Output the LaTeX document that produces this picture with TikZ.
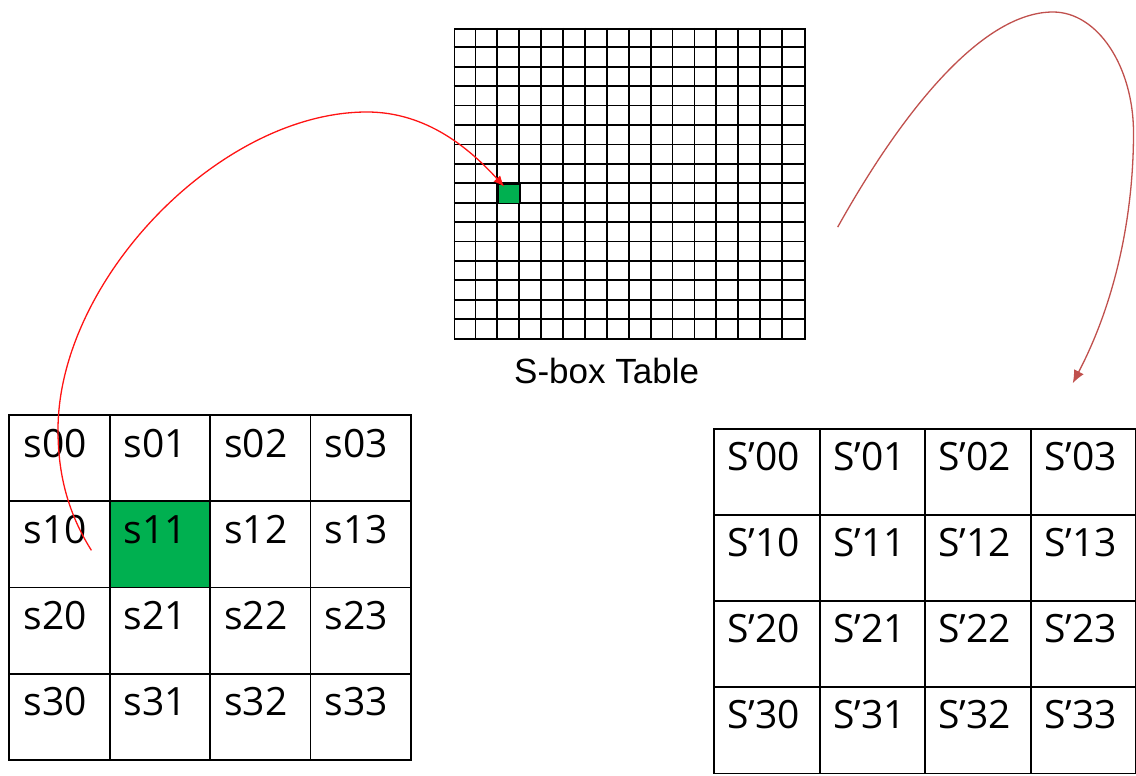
\documentclass[tikz,border=0pt]{standalone}
\usepackage{fontspec}
\setmainfont{Open Sans}
\newfontfamily\labelfont{Liberation Sans}
\usetikzlibrary{arrows.meta,calc}
\definecolor{cellgreen}{RGB}{0,176,80}
\definecolor{arrowred}{RGB}{255,20,20}
\definecolor{darkarrow}{RGB}{192,80,77}
\tikzset{
  cellbox/.style={draw=black, line width=1.8pt, minimum width=100.4pt, minimum height=86.3pt, inner sep=0pt, anchor=north west},
  cellboxR/.style={cellbox, minimum width=105.5pt, minimum height=86.2pt},
  celltext/.style={anchor=base west, inner sep=0pt, font=\fontsize{39}{39}\selectfont},
  sboxframe/.style={draw=black, line width=1.8pt, inner sep=0pt, anchor=north west},
  sboxline/.style={draw=black, line width=1.8pt},
  lcell11/.style={fill=cellgreen},
  redarrow/.style={draw=arrowred, line width=1.3pt, -{Latex[length=11pt,width=9pt]}},
  darkarrowline/.style={draw=darkarrow, line width=1.3pt, -{Latex[length=13pt,width=11pt]}},
  tablelabel/.style={anchor=base west, inner sep=0pt, font=\labelfont\fontsize{35}{35}\selectfont}
}
\begin{document}
\begin{tikzpicture}[x=1pt,y=-1pt]
\useasboundingbox (0,0) rectangle (1136,776);

% left 4x4 state
\foreach \r in {0,...,3}{
  \foreach \c in {0,...,3}{
    \node[cellbox, lcell\r\c/.try] (L\r\c) at ({8.3+\c*100.4},{414+\r*86.3}) {};
    \node[celltext] (Lt\r\c) at ($(L\r\c.north west)+(15,43)$) {s\r\c};
  }
}

% right 4x4 state
\foreach \r in {0,...,3}{
  \foreach \c in {0,...,3}{
    \node[cellboxR] (R\r\c) at ({713.3+\c*105.5},{427.7+\r*86.2}) {};
    \node[celltext] (Rt\r\c) at ($(R\r\c.north west)+(14,42.3)$) {S’\r\c};
  }
}

% S-box table 16x16
\node[sboxframe, minimum width=350.4pt, minimum height=310.4pt] (sbox) at (453.5,28) {};
\foreach \i in {1,...,15}{
  \draw[sboxline] ($(sbox.north west)+({\i*21.9},0)$) -- ($(sbox.south west)+({\i*21.9},0)$);
  \draw[sboxline] ($(sbox.north west)+(0,{\i*19.4})$) -- ($(sbox.north east)+(0,{\i*19.4})$);
}
\node[sboxframe, fill=cellgreen, minimum width=21.9pt, minimum height=19.4pt] (g) at ($(sbox.north west)+(43.8,155.2)$) {};
\node[tablelabel] (lbl) at (514,383) {S-box Table};

% arrows
\coordinate (a1s) at ($(L10.center)+(32,6)$);
\coordinate (a1e) at ($(g.north west)+(7,3.5)$);
\draw[redarrow] (a1s) .. controls (66,510) and (58,470) .. (58,430)
  .. controls (58,280) and (220,112) .. (367,112)
  .. controls (427,112) and (470,149) .. (a1e);

\coordinate (a2s) at ($(sbox.east)+(32,43)$);
\coordinate (a2e) at ($(R03.north)+(-10.7,-44.4)$);
\draw[darkarrowline] (a2s) .. controls (905,106.5) and (984,12) .. (1053,12)
  .. controls (1097.4,12) and (1133.5,66.2) .. (1133.5,133)
  .. controls (1133.5,211) and (1117.3,298) .. (a2e);
\end{tikzpicture}
\end{document}
